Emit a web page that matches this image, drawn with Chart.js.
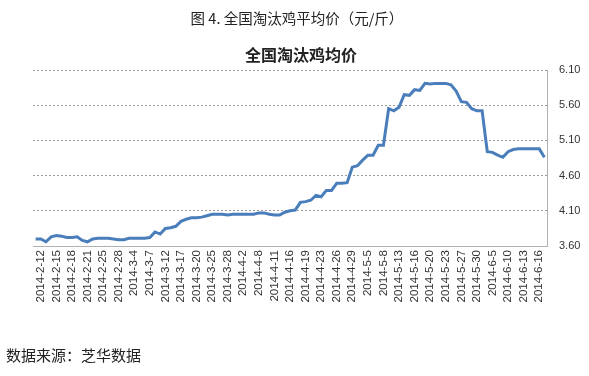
<!DOCTYPE html>
<html>
<head>
<meta charset="utf-8">
<script src="https://cdn.jsdelivr.net/npm/chart.js@4/dist/chart.umd.min.js"></script>
<style>
  html, body { margin: 0; padding: 0; background: #fff; }
  #wrap { position: relative; width: 589px; height: 376px; overflow: hidden; }
  #chart { position: absolute; left: 0; top: 0; }
  .txt { position: absolute; font-family: "Noto Sans CJK SC", sans-serif; color: #222; white-space: nowrap; line-height: 22px; }
  #pageTitle { left: 0; width: 594px; top: 7px; text-align: center; font-size: 14.5px; }
  #chartTitle { left: 0; width: 602px; top: 43px; text-align: center; font-size: 16px; font-weight: bold; }
  #source { left: 6px; top: 344px; font-size: 15px; }
</style>
</head>
<body>
<div id="wrap">
  <canvas id="chart" width="589" height="376"></canvas>
  <div class="txt" id="pageTitle">图 4. 全国淘汰鸡平均价（元/斤）</div>
  <div class="txt" id="chartTitle">全国淘汰鸡均价</div>
  <div class="txt" id="source">数据来源：芝华数据</div>
</div>
<script>
// tick labels shown on the x axis (every third point, starting at the second)
var tickLabels = ["2014-2-12", "2014-2-15", "2014-2-18", "2014-2-21", "2014-2-25", "2014-2-28",
  "2014-3-4", "2014-3-7", "2014-3-12", "2014-3-17", "2014-3-20", "2014-3-25", "2014-3-28",
  "2014-4-2", "2014-4-8", "2014-4-11", "2014-4-16", "2014-4-19", "2014-4-23", "2014-4-26",
  "2014-4-29", "2014-5-5", "2014-5-8", "2014-5-13", "2014-5-16", "2014-5-20", "2014-5-23",
  "2014-5-27", "2014-5-30", "2014-6-5", "2014-6-10", "2014-6-13", "2014-6-16"];

// average price, yuan per jin
var prices = [
  3.70, 3.70, 3.66, 3.73, 3.75, 3.74, 3.72, 3.72, 3.73, 3.68,
  3.66, 3.70, 3.71, 3.71, 3.71, 3.70, 3.69, 3.69, 3.71, 3.71,
  3.71, 3.71, 3.72, 3.80, 3.77, 3.85, 3.86, 3.88, 3.95, 3.98,
  4.00, 4.00, 4.01, 4.03, 4.05, 4.05, 4.05, 4.04, 4.05, 4.05,
  4.05, 4.05, 4.05, 4.07, 4.07, 4.05, 4.04, 4.04, 4.08, 4.10,
  4.11, 4.22, 4.23, 4.25, 4.32, 4.30, 4.39, 4.39, 4.49, 4.49,
  4.50, 4.72, 4.74, 4.82, 4.89, 4.89, 5.03, 5.03, 5.55, 5.52,
  5.57, 5.75, 5.74, 5.82, 5.81, 5.91, 5.90, 5.91, 5.91, 5.91,
  5.89, 5.80, 5.65, 5.64, 5.55, 5.52, 5.52, 4.94, 4.93, 4.89,
  4.86, 4.94, 4.97, 4.98, 4.98, 4.98, 4.98, 4.98, 4.86
];

var yTicks = [3.60, 4.10, 4.60, 5.10, 5.60, 6.10];

// one category per point, label only where the original shows one
var categories = prices.map(function (v, i) {
  return (i - 1) % 3 === 0 ? tickLabels[(i - 1) / 3] : "";
});

var ctx = document.getElementById("chart").getContext("2d");
new Chart(ctx, {
  type: "line",
  data: {
    labels: categories,
    datasets: [{
      label: "全国淘汰鸡均价",
      data: prices,
      borderColor: "#4a7ebb",
      borderWidth: 3,
      pointRadius: 0,
      tension: 0,
      fill: false
    }]
  },
  options: {
    responsive: false,
    animation: false,
    layout: { padding: { left: 33, top: 70, right: 0, bottom: 0 } },
    plugins: {
      legend: { display: false },
      tooltip: { enabled: false }
    },
    scales: {
      x: {
        offset: true,
        grid: { display: false, drawTicks: false },
        border: { display: true, color: "#b0b0b0", width: 1 },
        afterFit: function (scale) { scale.height = 130; },
        ticks: {
          autoSkip: false,
          maxRotation: 90,
          minRotation: 90,
          padding: 4,
          color: "#333",
          font: { family: "Liberation Sans", size: 11.5 },
          callback: function (val, i) { return categories[i]; }
        }
      },
      y: {
        position: "right",
        min: 3.6,
        max: 6.1,
        afterFit: function (scale) { scale.width = 42; },
        afterBuildTicks: function (scale) {
          scale.ticks = yTicks.map(function (v) { return { value: v }; });
        },
        grid: { color: "#9a9a9a", lineWidth: 1, drawTicks: false },
        border: { display: true, color: "#b0b0b0", width: 1, dash: [2, 2] },
        ticks: {
          padding: 12,
          color: "#333",
          font: { family: "Liberation Sans", size: 11 },
          callback: function (v) { return Number(v).toFixed(2); }
        }
      }
    }
  }
});
</script>
</body>
</html>
